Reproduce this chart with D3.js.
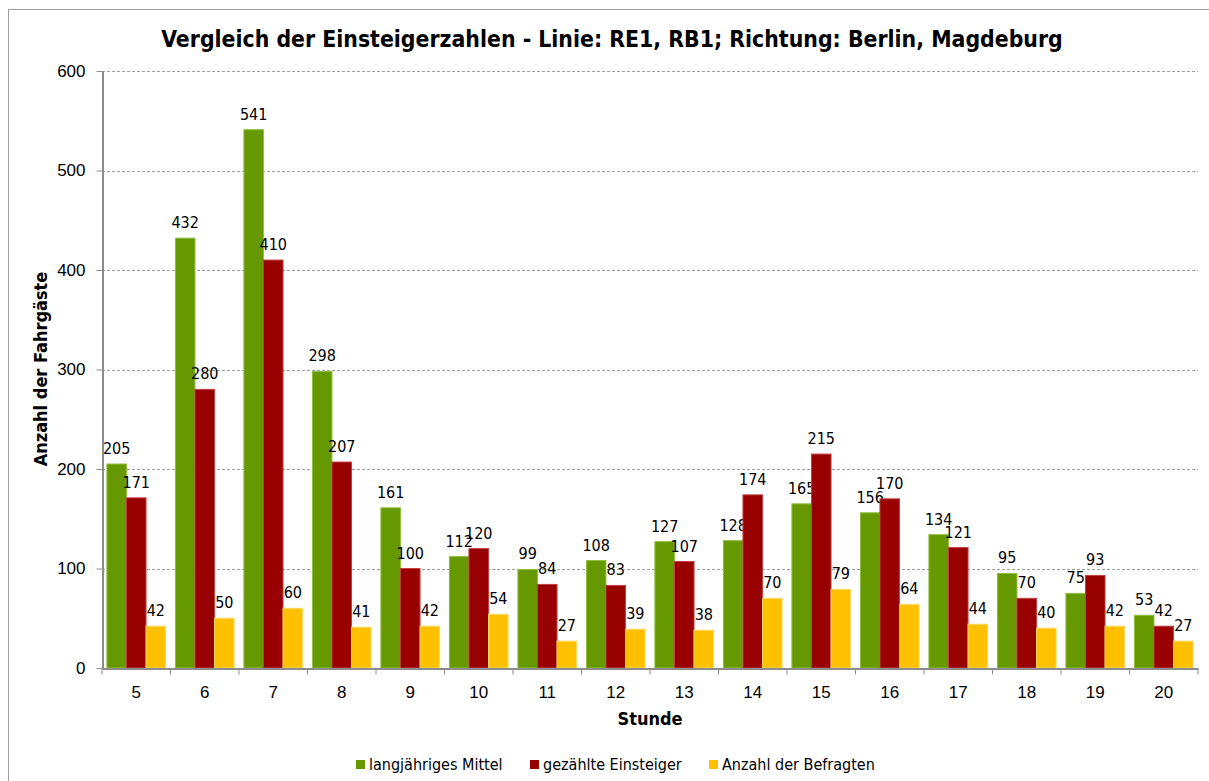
<!DOCTYPE html>
<html>
<head>
<meta charset="UTF-8">
<title>Einsteigerzahlen</title>
<script src="https://cdnjs.cloudflare.com/ajax/libs/d3/7.8.5/d3.min.js"></script>
<style>
  body { margin: 0; background: #fff; }
  svg { font-family: Tahoma, "DejaVu Sans Condensed", "DejaVu Sans", sans-serif; }
  .grid line { stroke: #a0a0a0; stroke-dasharray: 3,2; }
  .axis path, .axis line { stroke: #8c8c8c; }
  .axis text { font-size: 17px; fill: #000; }
  .label { font-size: 16px; fill: #000; }
</style>
</head>
<body>
<script>
// Data
const stunden = ["5","6","7","8","9","10","11","12","13","14","15","16","17","18","19","20"];
const mittel = [205, 432, 541, 298, 161, 112, 99, 108, 127, 128, 165, 156, 134, 95, 75, 53];
const gezaehlt = [171, 280, 410, 207, 100, 120, 84, 83, 107, 174, 215, 170, 121, 70, 93, 42];
const befragt = [42, 50, 60, 41, 42, 54, 27, 39, 38, 70, 79, 64, 44, 40, 42, 27];
const serienNamen = ["langjähriges Mittel", "gezählte Einsteiger", "Anzahl der Befragten"];
const yTicks = [0, 100, 200, 300, 400, 500, 600];

const series = [
  {name: serienNamen[0], values: mittel, fill: "#669900", stroke: "#8fbf40"},
  {name: serienNamen[1], values: gezaehlt, fill: "#990000", stroke: "#c04040"},
  {name: serienNamen[2], values: befragt, fill: "#ffc000", stroke: "#ffd966"}
];

const W = 1209, H = 781;
const pLeft = 102, pRight = 1198, pTop = 71, pBottom = 668;

const svg = d3.select("body").append("svg")
  .attr("width", W).attr("height", H);

// chart border
svg.append("rect")
  .attr("x", 8.5).attr("y", 9.5)
  .attr("width", W + 20).attr("height", H + 20)
  .attr("fill", "none").attr("stroke", "#a0a0a0");

// Scales
const x = d3.scaleBand().domain(stunden).range([pLeft, pRight]).paddingInner(0).paddingOuter(0);
const y = d3.scaleLinear().domain([0, 600]).range([pBottom, pTop]);
const bw = x.bandwidth() / 3.5;
const xs = d3.scaleBand().domain(d3.range(3)).range([bw * 0.25, x.bandwidth() - bw * 0.25]);

// gridlines
svg.append("g").attr("class", "grid")
  .selectAll("line").data(yTicks.filter(d => d > 0)).enter().append("line")
  .attr("x1", pLeft).attr("x2", pRight)
  .attr("y1", d => Math.round(y(d)) + 0.5).attr("y2", d => Math.round(y(d)) + 0.5);

// bars
const groups = svg.selectAll(".serie").data(series).enter().append("g").attr("class", "serie");
groups.selectAll("rect").data((s, i) => s.values.map((v, j) => ({v, j, i, s}))).enter()
  .append("rect")
  .attr("x", d => x(stunden[d.j]) + xs(d.i))
  .attr("y", d => y(d.v))
  .attr("width", xs.bandwidth())
  .attr("height", d => y(0) - y(d.v))
  .attr("fill", d => d.s.fill)
  .attr("stroke", d => d.s.stroke)
  .attr("stroke-width", 1);

// value labels
groups.selectAll("text").data((s, i) => s.values.map((v, j) => ({v, j, i}))).enter()
  .append("text").attr("class", "label")
  .attr("x", d => x(stunden[d.j]) + xs(d.i) + xs.bandwidth() / 2)
  .attr("y", d => y(d.v) - 10)
  .attr("text-anchor", "middle")
  .text(d => d.v);

// y axis
svg.append("g").attr("class", "axis")
  .attr("transform", `translate(${pLeft + 0.5},0)`)
  .call(d3.axisLeft(y).tickValues(yTicks).tickSize(6).tickPadding(11).tickSizeOuter(0))
  .call(g => g.select(".domain").attr("stroke-width", 2));

// x axis
const xAxis = svg.append("g").attr("class", "axis")
  .attr("transform", `translate(0,${pBottom + 0.5})`)
  .call(d3.axisBottom(x).tickSize(0).tickPadding(17).tickSizeOuter(0));
xAxis.select(".domain").attr("stroke-width", 2);
xAxis.selectAll(".sep").data(stunden.concat(["end"])).enter().append("line")
  .attr("stroke", "#8c8c8c")
  .attr("x1", (d, i) => pLeft + i * x.step()).attr("x2", (d, i) => pLeft + i * x.step())
  .attr("y1", 0).attr("y2", 6);

// title
svg.append("text")
  .attr("x", 612).attr("y", 47)
  .attr("text-anchor", "middle")
  .attr("font-weight", "bold").attr("font-size", 22.8)
  .text("Vergleich der Einsteigerzahlen - Linie: RE1, RB1; Richtung: Berlin, Magdeburg");

// axis titles
svg.append("text")
  .attr("transform", "translate(47,369) rotate(-90)")
  .attr("text-anchor", "middle")
  .attr("font-weight", "bold").attr("font-size", 18)
  .text("Anzahl der Fahrgäste");

svg.append("text")
  .attr("x", 650).attr("y", 725)
  .attr("text-anchor", "middle")
  .attr("font-weight", "bold").attr("font-size", 18)
  .text("Stunde");

// legend
const legendX = [356, 530, 709];
const legend = svg.selectAll(".leg").data(series).enter().append("g")
  .attr("transform", (d, i) => `translate(${legendX[i]},760)`);
legend.append("rect").attr("width", 9).attr("height", 9).attr("fill", d => d.fill);
legend.append("text").attr("x", 13).attr("y", 10).attr("font-size", 16).text(d => d.name);
</script>
</body>
</html>
